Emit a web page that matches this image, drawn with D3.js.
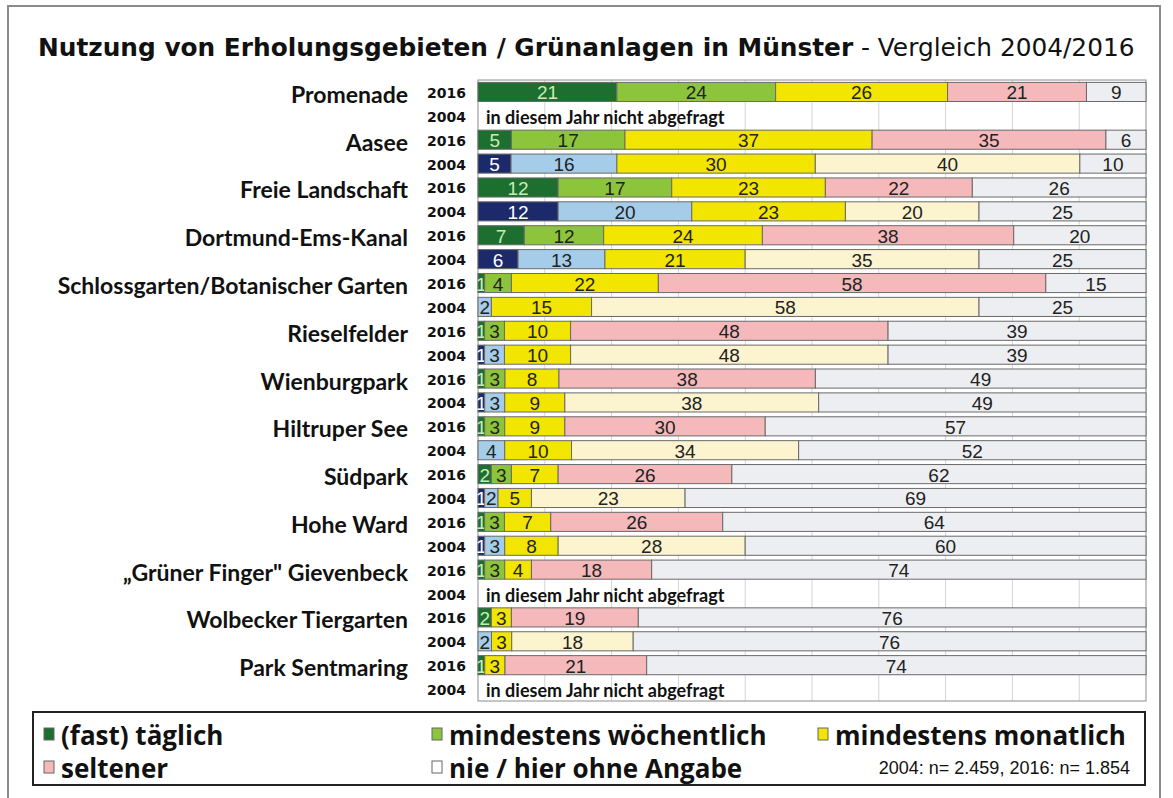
<!DOCTYPE html>
<html>
<head>
<meta charset="utf-8">
<script src="https://cdn.jsdelivr.net/npm/d3@7"></script>
<style>
  body { margin: 0; background: #fff; }
  svg { display: block; }
</style>
</head>
<body>
<div id="chart"></div>
<script>
// places, top to bottom
var places = ["Promenade", "Aasee", "Freie Landschaft", "Dortmund-Ems-Kanal",
    "Schlossgarten/Botanischer Garten", "Rieselfelder", "Wienburgpark",
    "Hiltruper See", "Südpark", "Hohe Ward", "\u201EGrüner Finger\" Gievenbeck",
    "Wolbecker Tiergarten", "Park Sentmaring"];

// [täglich, wöchentlich, monatlich, seltener, nie]
var values2016 = [
    [21, 24, 26, 21, 9],
    [5, 17, 37, 35, 6],
    [12, 17, 23, 22, 26],
    [7, 12, 24, 38, 20],
    [1, 4, 22, 58, 15],
    [1, 3, 10, 48, 39],
    [1, 3, 8, 38, 49],
    [1, 3, 9, 30, 57],
    [2, 3, 7, 26, 62],
    [1, 3, 7, 26, 64],
    [1, 3, 4, 18, 74],
    [2, 0, 3, 19, 76],
    [1, 0, 3, 21, 74]
];
var values2004 = [
    null,
    [5, 16, 30, 40, 10],
    [12, 20, 23, 20, 25],
    [6, 13, 21, 35, 25],
    [0, 2, 15, 58, 25],
    [1, 3, 10, 48, 39],
    [1, 3, 9, 38, 49],
    [0, 4, 10, 34, 52],
    [1, 2, 5, 23, 69],
    [1, 3, 8, 28, 60],
    null,
    [0, 2, 3, 18, 76],
    null
];
var years = ["2016", "2004"];
var categories = ["(fast) täglich", "mindestens wöchentlich", "mindestens monatlich",
    "seltener", "nie / hier ohne Angabe"];
var colors2016 = ["#1d6f2f", "#8cc43c", "#f2e500", "#f5b9bb", "#eceef1"];
var colors2004 = ["#1c2a6b", "#a5cdea", "#f2e500", "#fcf3cf", "#eceef1"];
var textColors2016 = ["#c9ecb4", "#222", "#222", "#222", "#222"];
var textColors2004 = ["#ffffff", "#222", "#222", "#222", "#222"];
var notAsked = "in diesem Jahr nicht abgefragt";
var sampleNote = "2004: n= 2.459, 2016: n= 1.854";

var width = 1173, height = 798;
var svg = d3.select("#chart").append("svg")
    .attr("width", width)
    .attr("height", height);

// frame
svg.append("rect")
    .attr("x", 8).attr("y", 6)
    .attr("width", 1152).attr("height", 800)
    .attr("fill", "#fff")
    .attr("stroke", "#8a8a8a")
    .attr("stroke-width", 2);

// title
var title = svg.append("text")
    .attr("x", 38).attr("y", 56)
    .attr("font-family", "DejaVu Sans, Verdana, sans-serif")
    .attr("font-size", 24.8)
    .attr("fill", "#111");
title.append("tspan").attr("font-weight", "bold")
    .text("Nutzung von Erholungsgebieten / Grünanlagen in Münster");
title.append("tspan").text(" - Vergleich 2004/2016");

// rows
var rows = [];
places.forEach(function(p, i) {
    rows.push({place: p, year: years[0], values: values2016[i], colors: colors2016, text: textColors2016});
    rows.push({place: p, year: years[1], values: values2004[i], colors: colors2004, text: textColors2004});
});
rows.forEach(function(r, i) { r.id = i; });

var plotLeft = 478, plotRight = 1146, plotTop = 80, plotBottom = 701;
var x = d3.scaleLinear().domain([0, 1]).range([plotLeft, plotRight]);
var y = d3.scaleBand()
    .domain(rows.map(function(r) { return r.id; }))
    .range([plotTop, plotBottom])
    .paddingInner(0.2)
    .paddingOuter(0.1);

// grid
var grid = svg.append("g");
grid.selectAll("line")
    .data(d3.range(1, 10).map(function(d) { return d / 10; }))
    .enter().append("line")
    .attr("x1", function(d) { return x(d); })
    .attr("x2", function(d) { return x(d); })
    .attr("y1", plotTop).attr("y2", plotBottom)
    .attr("stroke", "#d4d4d4");
svg.append("rect")
    .attr("x", plotLeft).attr("y", plotTop)
    .attr("width", plotRight - plotLeft).attr("height", plotBottom - plotTop)
    .attr("fill", "none")
    .attr("stroke", "#8c8c8c");

// stacked 100% bars
var rowG = svg.append("g").selectAll("g")
    .data(rows)
    .enter().append("g")
    .attr("transform", function(r) { return "translate(0," + y(r.id) + ")"; });

var segs = rowG.filter(function(r) { return r.values; })
    .selectAll("g")
    .data(function(r) {
        var total = d3.sum(r.values), acc = 0;
        return r.values.map(function(v, k) {
            var s = {v: v, x0: acc / total, x1: (acc + v) / total, fill: r.colors[k], tc: r.text[k]};
            acc += v;
            return s;
        }).filter(function(s) { return s.v > 0; });
    })
    .enter().append("g");

segs.append("rect")
    .attr("x", function(s) { return x(s.x0); })
    .attr("width", function(s) { return x(s.x1) - x(s.x0); })
    .attr("height", y.bandwidth())
    .attr("fill", function(s) { return s.fill; })
    .attr("stroke", "#6a6a6a")
    .attr("stroke-width", 1);

segs.append("text")
    .attr("x", function(s) { return (x(s.x0) + x(s.x1)) / 2; })
    .attr("y", y.bandwidth() / 2 + 1)
    .attr("dominant-baseline", "central")
    .attr("text-anchor", "middle")
    .attr("font-family", "Liberation Sans Narrow, Arial Narrow, sans-serif")
    .attr("font-size", 19)
    .attr("fill", function(s) { return s.tc; })
    .text(function(s) { return s.v; });

rowG.filter(function(r) { return !r.values; })
    .append("text")
    .attr("x", plotLeft + 8)
    .attr("y", y.bandwidth() / 2 + 1)
    .attr("dominant-baseline", "central")
    .attr("font-family", "Lato, sans-serif")
    .attr("font-weight", "bold")
    .attr("font-size", 18)
    .attr("fill", "#111")
    .text(notAsked);

// year labels
rowG.append("text")
    .attr("x", 466)
    .attr("y", y.bandwidth() / 2 + 1)
    .attr("dominant-baseline", "central")
    .attr("text-anchor", "end")
    .attr("font-family", "DejaVu Sans, Verdana, sans-serif")
    .attr("font-weight", "bold")
    .attr("font-size", 14)
    .attr("fill", "#111")
    .text(function(r) { return r.year; });

// place labels
rowG.filter(function(r) { return r.year === years[0]; })
    .append("text")
    .attr("x", 408)
    .attr("y", y.bandwidth() / 2 + 2)
    .attr("dominant-baseline", "central")
    .attr("text-anchor", "end")
    .attr("font-family", "Lato, sans-serif")
    .attr("font-weight", "bold")
    .attr("font-size", 23)
    .attr("fill", "#111")
    .text(function(r) { return r.place; });

// legend
svg.append("rect")
    .attr("x", 33).attr("y", 712)
    .attr("width", 1112).attr("height", 73)
    .attr("fill", "#fff")
    .attr("stroke", "#222")
    .attr("stroke-width", 2);

var legendPos = [[44, 734], [432, 734], [818, 734], [44, 767], [432, 767]];
var legendSwatch = colors2016.slice(0, 4).concat(["#ffffff"]);
var leg = svg.append("g").selectAll("g")
    .data(categories)
    .enter().append("g")
    .attr("transform", function(d, i) { return "translate(" + legendPos[i][0] + "," + legendPos[i][1] + ")"; });
leg.append("rect")
    .attr("x", 0).attr("y", -6)
    .attr("width", 10).attr("height", 12)
    .attr("fill", function(d, i) { return legendSwatch[i]; })
    .attr("stroke", "#666");
leg.append("text")
    .attr("x", 17)
    .attr("y", 1)
    .attr("dominant-baseline", "central")
    .attr("font-family", "Open Sans, sans-serif")
    .attr("font-weight", "bold")
    .attr("font-size", 26)
    .attr("fill", "#111")
    .text(function(d) { return d; });

svg.append("text")
    .attr("x", 1130).attr("y", 768)
    .attr("dominant-baseline", "central")
    .attr("text-anchor", "end")
    .attr("font-family", "Liberation Sans Narrow, Arial Narrow, sans-serif")
    .attr("font-size", 18)
    .attr("fill", "#111")
    .text(sampleNote);
</script>
</body>
</html>
